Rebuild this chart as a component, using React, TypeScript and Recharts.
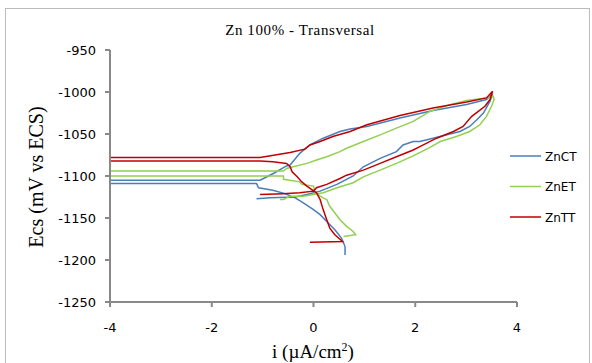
import { LineChart, Line, XAxis, YAxis } from 'recharts'

const seriesNames = ['ZnCT', 'ZnET', 'ZnTT']
const seriesColors = ['#4a7ebb', '#92d050', '#c00000']

const xTicks = [-4, -2, 0, 2, 4]
const yTicks = [-1250, -1200, -1150, -1100, -1050, -1000, -950]

// ZnCT: log i and potential, in scan order
const ctI = [0.62, 0.62, 0.55, 0.42, 0.29, 0.13, 0, -0.2, -0.36, -0.56, -0.8, -1.08, -1.12, -4.3, -4.3, -1.05, -0.79, -0.53, -0.46, -0.27, -0.07, 0.19, 0.52, 0.72, 1.05, 1.7, 2.35, 3.01, 3.4, 3.52, 3.47, 3.34, 3.21, 3.07, 2.88, 2.62, 2.35, 2.09, 1.96, 1.76, 1.63, 1.31, 0.98, 0.78, 0.46, 0.13, -0.13, -0.36, -0.85, -1.12]
const ctE = [-1194, -1184, -1174, -1164, -1156, -1146, -1140, -1132, -1126, -1121, -1117, -1114, -1109, -1109, -1105, -1105, -1097, -1088, -1087, -1073, -1063, -1055, -1047, -1044, -1041, -1031, -1022, -1015, -1009, -1002, -1011, -1025, -1033, -1041, -1047, -1051, -1055, -1059, -1059, -1063, -1071, -1079, -1089, -1100, -1110, -1118, -1122, -1125, -1126, -1127]

// ZnET
const etI = [0.59, 0.83, 0.78, 0.65, 0.52, 0.42, 0.32, 0.26, 0.19, 0.03, 0, -0.23, -0.27, -0.59, -0.59, -4.3, -4.3, -0.59, -0.53, -0.4, -0.13, 0.06, 0.26, 0.52, 0.65, 0.98, 1.31, 1.63, 1.96, 2.29, 2.68, 3.01, 3.4, 3.53, 3.55, 3.5, 3.4, 3.27, 3.07, 2.81, 2.49, 2.29, 1.96, 1.63, 1.31, 0.98, 0.78, 0.46, 0.19, 0, -0.2, -0.46, -0.59, -0.66]
const etE = [-1172, -1170, -1166, -1160, -1152, -1144, -1136, -1128, -1126, -1120, -1112, -1110, -1107, -1104, -1100, -1100, -1094, -1094, -1091, -1089, -1085, -1081, -1077, -1071, -1067, -1059, -1051, -1043, -1035, -1023, -1015, -1010, -1007, -1005, -1009, -1017, -1029, -1039, -1047, -1053, -1059, -1066, -1076, -1085, -1093, -1101, -1108, -1114, -1120, -1122, -1124, -1124, -1128, -1128]

// ZnTT
const ttI = [-0.07, 0.57, 0.42, 0.32, 0.26, 0.19, 0.13, 0.06, -0.04, -0.13, -0.23, -0.32, -0.42, -0.46, -0.53, -0.8, -1.05, -4.3, -4.3, -1.05, -0.46, -0.17, -0.07, 0.13, 0.38, 0.72, 1.05, 1.7, 2.35, 3.01, 3.4, 3.52, 3.47, 3.37, 3.24, 3.11, 2.94, 2.75, 2.42, 2.09, 1.96, 1.63, 1.31, 0.98, 0.65, 0.52, 0.26, 0.06, 0, -0.27, -0.6, -1.05]
const ttE = [-1179, -1178, -1170, -1162, -1152, -1140, -1128, -1120, -1116, -1112, -1107, -1101, -1095, -1089, -1085, -1083, -1082, -1082, -1078, -1078, -1072, -1068, -1063, -1059, -1053, -1047, -1039, -1028, -1019, -1012, -1007, -999, -1009, -1017, -1023, -1029, -1041, -1047, -1055, -1065, -1069, -1077, -1085, -1093, -1099, -1103, -1110, -1114, -1118, -1120, -1121, -1122]

const toPoints = (xs: number[], ys: number[]) => xs.map((x, k) => ({ x, y: ys[k] }))
const series = [toPoints(ctI, ctE), toPoints(etI, etE), toPoints(ttI, ttE)]

const tickStyle = { fill: '#000', fontSize: 13, fontFamily: 'DejaVu Sans' }
const axisStroke = '#898989'

export default function App() {
  return (
    <div style={{ position: 'absolute', left: 0, top: 0, width: 592, height: 363, overflow: 'hidden', background: '#fff' }}>
      <style>{'body{margin:0;overflow:hidden}'}</style>
      <div style={{ position: 'absolute', left: 5, top: 8, width: 585, height: 400, border: '1px solid #bcbcbc', boxSizing: 'border-box' }} />
      <div style={{ position: 'absolute', left: 0, top: 0 }}>
        <LineChart width={592} height={363} margin={{ top: 50, right: 75, bottom: 0, left: 0 }}>
          <XAxis type="number" dataKey="x" domain={[-4, 4]} ticks={xTicks} allowDataOverflow
            height={61} stroke={axisStroke} strokeWidth={2} tickSize={5} tickMargin={16} tick={tickStyle} />
          <YAxis type="number" dataKey="y" domain={[-1250, -950]} ticks={yTicks} allowDataOverflow
            width={110} stroke={axisStroke} strokeWidth={2} tickSize={5} tickMargin={9} tick={tickStyle} />
          {series.map((pts, k) => (
            <Line key={seriesNames[k]} name={seriesNames[k]} data={pts} dataKey="y" type="linear"
              stroke={seriesColors[k]} strokeWidth={1.5} dot={false} isAnimationActive={false} />
          ))}
        </LineChart>
      </div>
      <svg width={592} height={363} style={{ position: 'absolute', left: 0, top: 0, pointerEvents: 'none' }}>
        <text x={300} y={35} textAnchor="middle" fontFamily="Liberation Serif" fontSize={15} letterSpacing={0.6}>Zn 100% - Transversal</text>
        <text transform="translate(42.5,177) rotate(-90)" textAnchor="middle" fontFamily="Liberation Serif" fontSize={20}>Ecs (mV vs ECS)</text>
        <text x={313} y={358} textAnchor="middle" fontFamily="Liberation Serif" fontSize={19}>
          i (µA/cm<tspan fontSize={12} dy={-7}>2</tspan><tspan dy={7}>)</tspan>
        </text>
        {seriesNames.map((name, k) => (
          <g key={name}>
            <line x1={510} x2={541} y1={156 + k * 30.5} y2={156 + k * 30.5} stroke={seriesColors[k]} strokeWidth={1.5} />
            <text x={545} y={160.5 + k * 30.5} fontSize={12} fontFamily="DejaVu Sans" fill="#000">{name}</text>
          </g>
        ))}
      </svg>
    </div>
  )
}
